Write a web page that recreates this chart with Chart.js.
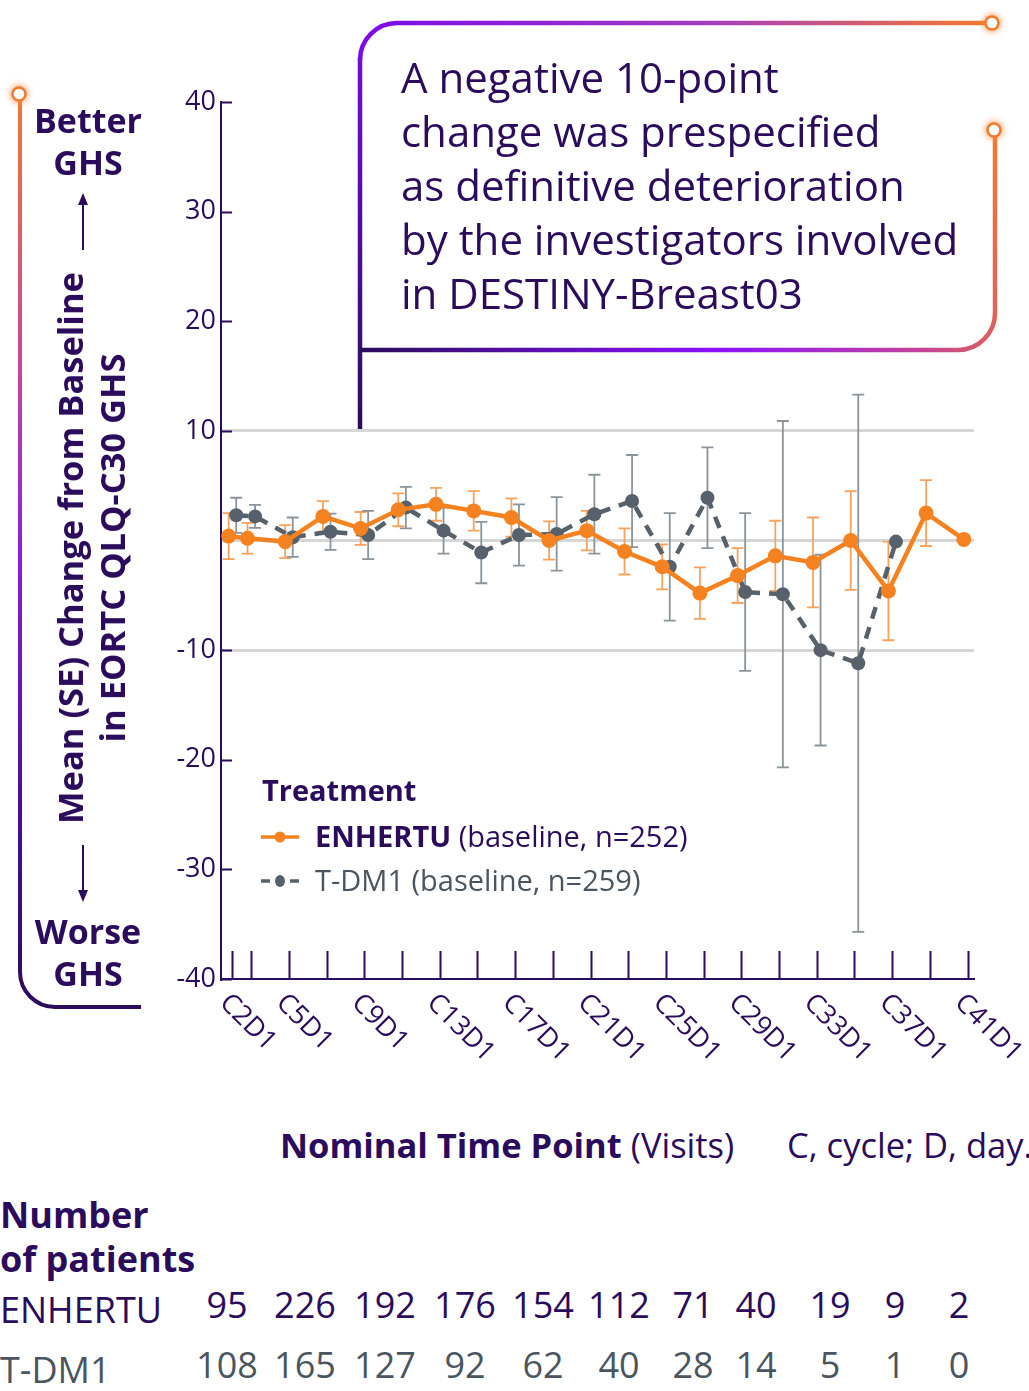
<!DOCTYPE html>
<html>
<head>
<meta charset="utf-8">
<script src="https://cdn.jsdelivr.net/npm/chart.js@4.4.0/dist/chart.umd.min.js"></script>
<style>
  html, body { margin: 0; padding: 0; background: #fff; }
  body { width: 1029px; height: 1391px; position: relative; overflow: hidden;
         font-family: "Open Sans", sans-serif; color: #2b0c5c; }
  #wrap { position: absolute; left: 0; top: 0; width: 1029px; height: 1100px; }
  .abs { position: absolute; white-space: nowrap; }
  .bold { font-weight: 700; }
  .gray { color: #4b5560; }
  #callout { left: 401px; top: 50px; font-size: 42px; line-height: 54px; }
  #ytitle { left: 91px; top: 548px; font-size: 34.5px; font-weight: 700; line-height: 42px;
            text-align: center; transform: translate(-50%, -50%) rotate(-90deg); }
  .ghs { font-size: 34px; font-weight: 700; line-height: 42px; text-align: center;
         transform: translateX(-50%); }
  .legrow { font-size: 29px; line-height: 36px; }
  .num { font-size: 36px; line-height: 40px; transform: translateX(-50%); }
  svg { position: absolute; left: 0; top: 0; overflow: visible; }
</style>
</head>
<body>
<svg width="1029" height="1391">
  <defs>
    <linearGradient id="gLeft" gradientUnits="userSpaceOnUse" x1="0" y1="95" x2="0" y2="1007">
      <stop offset="0" stop-color="#f07a30"/>
      <stop offset="0.3" stop-color="#c8469a"/>
      <stop offset="0.5" stop-color="#8a1fe0"/>
      <stop offset="0.78" stop-color="#4a0c9e"/>
      <stop offset="1" stop-color="#2b0c5c"/>
    </linearGradient>
    <linearGradient id="gTop" gradientUnits="userSpaceOnUse" x1="360" y1="0" x2="990" y2="0">
      <stop offset="0" stop-color="#7a0ae8"/>
      <stop offset="0.55" stop-color="#a43cc0"/>
      <stop offset="1" stop-color="#f47a2c"/>
    </linearGradient>
    <linearGradient id="gVert" gradientUnits="userSpaceOnUse" x1="0" y1="22" x2="0" y2="430">
      <stop offset="0" stop-color="#7a0ae8"/>
      <stop offset="1" stop-color="#2b0c5c"/>
    </linearGradient>
    <linearGradient id="gBottom" gradientUnits="userSpaceOnUse" x1="360" y1="350" x2="995" y2="138">
      <stop offset="0" stop-color="#2b0c5c"/>
      <stop offset="0.5" stop-color="#8a10ff"/>
      <stop offset="0.78" stop-color="#c0409e"/>
      <stop offset="1" stop-color="#f07a30"/>
    </linearGradient>
    <filter id="glow" x="-2" y="-2" width="5" height="5">
      <feGaussianBlur stdDeviation="3"/>
    </filter>
  </defs>
  <!-- left bracket -->
  <path d="M20 98 L20 972 A35 35 0 0 0 55 1007 L141 1007" fill="none" stroke="url(#gLeft)" stroke-width="4"/>
  <!-- callout -->
  <path d="M360 430 L360 58" fill="none" stroke="url(#gVert)" stroke-width="4.5"/>
  <path d="M360 60 A37 37 0 0 1 397 23 L986 23" fill="none" stroke="url(#gTop)" stroke-width="4.5"/>
  <path d="M360 350 L958 350 A37 37 0 0 0 995 313 L995 136" fill="none" stroke="url(#gBottom)" stroke-width="4.5"/>
  <!-- glow dots -->
  <g>
    <circle cx="19" cy="94" r="9" fill="#ff8a3d" opacity="0.75" filter="url(#glow)"/>
    <circle cx="19" cy="94" r="6.5" fill="#fff" stroke="#f07a30" stroke-width="2.5"/>
    <circle cx="992" cy="23" r="9" fill="#ff8a3d" opacity="0.75" filter="url(#glow)"/>
    <circle cx="992" cy="23" r="6.5" fill="#fff" stroke="#f07a30" stroke-width="2.5"/>
    <circle cx="994" cy="130" r="9" fill="#ff8a3d" opacity="0.75" filter="url(#glow)"/>
    <circle cx="994" cy="130" r="6.5" fill="#fff" stroke="#f07a30" stroke-width="2.5"/>
  </g>
  <!-- arrows -->
  <line x1="83" y1="250" x2="83" y2="204" stroke="#2b0c5c" stroke-width="2"/>
  <polygon points="83,193 78,205 88,205" fill="#2b0c5c"/>
  <line x1="83" y1="845" x2="83" y2="891" stroke="#2b0c5c" stroke-width="2"/>
  <polygon points="83,902 78,890 88,890" fill="#2b0c5c"/>
  <!-- legend samples -->
  <line x1="261" y1="837" x2="299" y2="837" stroke="#f58220" stroke-width="3.5"/>
  <circle cx="280" cy="837" r="5.5" fill="#f58220"/>
  <line x1="261" y1="881" x2="270" y2="881" stroke="#56616b" stroke-width="3.5"/>
  <line x1="290" y1="881" x2="299" y2="881" stroke="#56616b" stroke-width="3.5"/>
  <ellipse cx="280" cy="881" rx="5" ry="6" fill="#56616b"/>
</svg>

<div id="wrap"><canvas id="chart" width="1029" height="1100"></canvas></div>

<div id="callout" class="abs">A negative 10-point<br>change was prespecified<br>as definitive deterioration<br>by the investigators involved<br>in DESTINY-Breast03</div>

<div class="abs ghs" style="left:88px; top:99px;">Better<br>GHS</div>
<div class="abs ghs" style="left:88px; top:910px;">Worse<br>GHS</div>
<div id="ytitle" class="abs">Mean (SE) Change from Baseline<br>in EORTC QLQ-C30 GHS</div>

<div class="abs bold" style="left:262px; top:770px; font-size:29px;">Treatment</div>
<div class="abs legrow" style="left:315px; top:818px;"><span class="bold">ENHERTU</span> (baseline, n=252)</div>
<div class="abs legrow gray" style="left:315px; top:862px;">T-DM1 (baseline, n=259)</div>

<div class="abs" style="left:280px; top:1121px; font-size:34.5px;"><span class="bold">Nominal Time Point</span> (Visits)</div>
<div class="abs" style="left:787px; top:1121px; font-size:34.5px;">C, cycle; D, day.</div>

<div class="abs bold" style="left:0px; top:1193px; font-size:36px; line-height:44px;">Number<br>of patients</div>
<div class="abs" style="left:0px; top:1285px; font-size:36px;">ENHERTU</div>
<div class="abs gray" style="left:0px; top:1345px; font-size:36px;">T-DM1</div>
<div id="rows"></div>

<script>
// visits (cycle number of each CxD1 visit)
const cycles = [2, 3, 5, 7, 9, 11, 13, 15, 17, 19, 21, 23, 25, 27, 29, 31, 33, 35, 37, 39, 41];
const enhertuMean = [0.4, 0.2, -0.1, 2.2, 1.1, 2.8, 3.3, 2.7, 2.1, 0.0, 0.9, -1.0, -2.4, -4.8, -3.2, -1.4, -2.0, 0.0, -4.6, 2.5, 0.1];
const enhertuSE = [2.1, 1.4, 1.5, 1.4, 1.5, 1.5, 1.5, 1.8, 1.75, 1.75, 1.8, 2.1, 2.05, 2.35, 2.5, 3.2, 4.1, 4.5, 4.5, 3.0, null];

const tdm1Cycles = [2, 3, 5, 7, 9, 11, 13, 15, 17, 19, 21, 23, 25, 27, 29, 31, 33, 35, 37];
const tdm1Mean = [2.3, 2.2, 0.3, 0.8, 0.5, 3.0, 0.9, -1.1, 0.5, 0.6, 2.4, 3.6, -2.4, 3.9, -4.7, -4.9, -10.0, -11.2, -0.1];
const tdm1SE = [1.6, 1.05, 1.8, 1.65, 2.2, 1.9, 2.1, 2.8, 2.8, 3.35, 3.6, 4.2, 4.9, 4.6, 7.2, 15.8, 8.7, 24.5, null];

const yTicks = [40, 30, 20, 10, 0, -10, -20, -30, -40];
const labelCycles = [2, 5, 9, 13, 17, 21, 25, 29, 33, 37, 41];

// number of patients table
const enhertuN = [95, 226, 192, 176, 154, 112, 71, 40, 19, 9, 2];
const tdm1N = [108, 165, 127, 92, 62, 40, 28, 14, 5, 1, 0];
const tableCols = [227, 305, 385, 465, 543, 619, 693, 756, 830, 895, 959];

const PURPLE = '#2b0c5c';
const ORANGE = '#f58220';
const GRAY = '#56616b';
const DODGE = 0.2;

var rows = document.getElementById('rows');
tableCols.forEach(function(x, i) {
    var a = document.createElement('div');
    a.className = 'abs num';
    a.style.left = x + 'px'; a.style.top = '1285px';
    a.textContent = enhertuN[i];
    rows.appendChild(a);
    var b = document.createElement('div');
    b.className = 'abs num gray';
    b.style.left = x + 'px'; b.style.top = '1345px';
    b.textContent = tdm1N[i];
    rows.appendChild(b);
});

// error bars behind the lines
const errorBars = {
    id: 'errorBars',
    beforeDatasetsDraw(chart) {
        const ctx = chart.ctx, x = chart.scales.x, y = chart.scales.y;
        chart.data.datasets.forEach(function(ds) {
            ctx.save();
            ctx.strokeStyle = ds.errColor;
            ctx.lineWidth = 1.8;
            ds.data.forEach(function(p, i) {
                var se = ds.se[i];
                if (se == null) return;
                var px = x.getPixelForValue(p.x);
                var top = y.getPixelForValue(p.y + se), bot = y.getPixelForValue(p.y - se);
                ctx.beginPath();
                ctx.moveTo(px, top); ctx.lineTo(px, bot);
                ctx.moveTo(px - 6, top); ctx.lineTo(px + 6, top);
                ctx.moveTo(px - 6, bot); ctx.lineTo(px + 6, bot);
                ctx.stroke();
            });
            ctx.restore();
        });
    }
};

// inward tick marks and rotated visit labels
const axisMarks = {
    id: 'axisMarks',
    afterDraw(chart) {
        const ctx = chart.ctx, x = chart.scales.x, y = chart.scales.y;
        ctx.save();
        ctx.strokeStyle = PURPLE;
        ctx.lineWidth = 2;
        ctx.beginPath();
        yTicks.forEach(function(v) {
            if (v === 0) return;
            var py = Math.round(y.getPixelForValue(v)) + 0.5;
            ctx.moveTo(x.left, py); ctx.lineTo(x.left + 11, py);
        });
        cycles.forEach(function(c) {
            var px = Math.round(x.getPixelForValue(c)) + 0.5;
            ctx.moveTo(px, y.bottom); ctx.lineTo(px, y.bottom - 28);
        });
        ctx.stroke();

        ctx.fillStyle = PURPLE;
        ctx.font = '27px "Open Sans"';
        ctx.textAlign = 'left';
        ctx.textBaseline = 'alphabetic';
        labelCycles.forEach(function(c) {
            var px = x.getPixelForValue(c);
            ctx.save();
            ctx.translate(px - 14, y.bottom + 25);
            ctx.rotate(Math.PI / 4);
            ctx.fillText('C' + c + 'D1', 0, 0);
            ctx.restore();
        });
        ctx.restore();
    }
};

var ctx = document.getElementById('chart').getContext('2d');
var chart = new Chart(ctx, {
    type: 'line',
    data: {
        datasets: [{
            label: 'ENHERTU',
            data: cycles.map(function(c, i) { return { x: c - DODGE, y: enhertuMean[i] }; }),
            se: enhertuSE,
            errColor: '#f7a35e',
            borderColor: ORANGE,
            backgroundColor: ORANGE,
            borderWidth: 4.5,
            pointRadius: 7.5,
            pointBorderWidth: 0,
            tension: 0
        }, {
            label: 'T-DM1',
            data: tdm1Cycles.map(function(c, i) { return { x: c + DODGE, y: tdm1Mean[i] }; }),
            se: tdm1SE,
            errColor: '#8b939b',
            borderColor: GRAY,
            backgroundColor: GRAY,
            borderWidth: 4.5,
            borderDash: [12, 9],
            pointRadius: 7,
            pointBorderWidth: 0,
            tension: 0
        }]
    },
    options: {
        responsive: false,
        animation: false,
        layout: { padding: { top: 102, right: 55, left: 0, bottom: 0 } },
        plugins: { legend: { display: false }, tooltip: { enabled: false } },
        scales: {
            x: {
                type: 'linear', min: 1.393, max: 41.34,
                grid: { display: false },
                ticks: { display: false },
                border: { color: PURPLE, width: 2 },
                afterFit: function(s) { s.height = 121; }
            },
            y: {
                min: -40, max: 40,
                afterBuildTicks: function(s) { s.ticks = yTicks.map(function(v) { return { value: v }; }); },
                ticks: {
                    color: PURPLE,
                    font: { family: 'Open Sans', size: 27 },
                    padding: 5,
                    callback: function(v) { return v === 0 ? '' : String(v); }
                },
                grid: {
                    drawTicks: false,
                    lineWidth: 3,
                    color: function(c) { return [10, 0, -10].indexOf(c.tick.value) >= 0 ? '#d6d6d6' : 'rgba(0,0,0,0)'; }
                },
                border: { color: PURPLE, width: 2 },
                afterFit: function(s) { s.width = 221; }
            }
        }
    },
    plugins: [errorBars, axisMarks]
});
</script>
</body>
</html>
